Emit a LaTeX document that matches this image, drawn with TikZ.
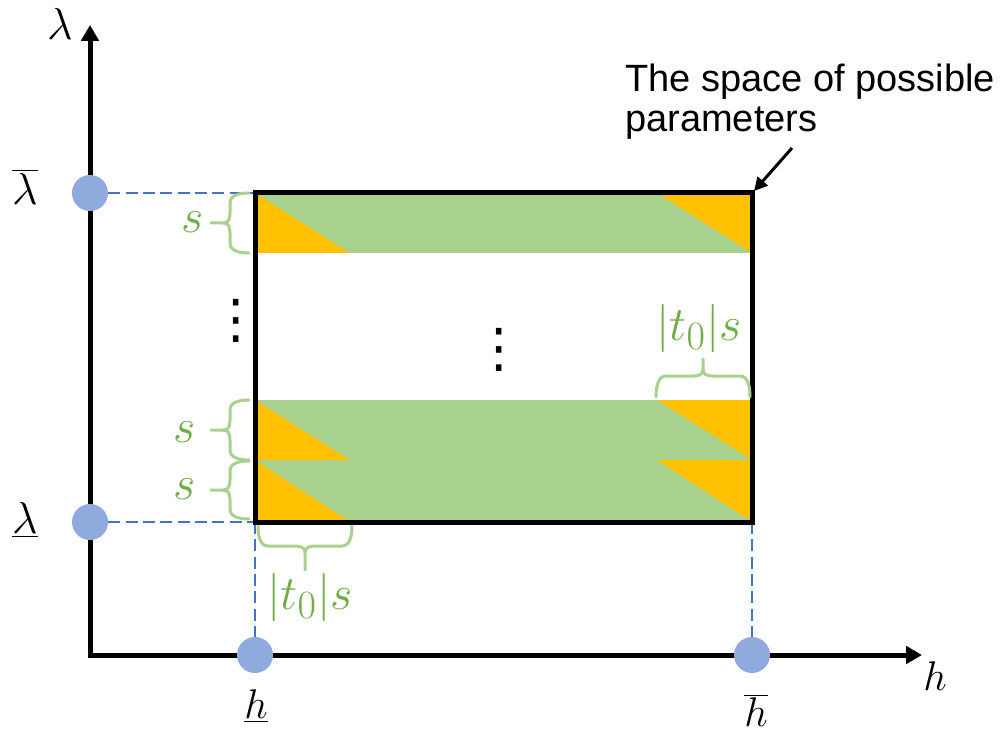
\documentclass[tikz,border=0pt]{standalone}
\usepackage{fontspec}
\usetikzlibrary{arrows.meta}
\newfontfamily\labelfont{Liberation Sans}
\newfontfamily\symfont{DejaVu Sans}
\definecolor{bandgreen}{HTML}{A9D18E}
\definecolor{triorange}{HTML}{FFC000}
\definecolor{dotblue}{HTML}{8FAADC}
\definecolor{dashblue}{HTML}{4472C4}
\definecolor{txtgreen}{HTML}{70AD47}
% brace: #1,#2 position of open-side centre; #3,#4 local x/y vectors; #5 half length; #6 body depth; #7 tip depth
\newcommand{\gbrace}[7]{%
  \begin{scope}[shift={(#1,#2)},x={#3},y={#4}]
    \draw[bracestyle] (-#7,0) -- (-#6-7,0) .. controls (-#6-2,0) and (-#6,-3) .. (-#6,-10)
      -- (-#6,-#5+10) .. controls (-#6,-#5+3) and (-0.6*#6,-#5) .. (0,-#5);
    \draw[bracestyle] (-#6-7,0) .. controls (-#6-2,0) and (-#6,3) .. (-#6,10)
      -- (-#6,#5-10) .. controls (-#6,#5-3) and (-0.6*#6,#5) .. (0,#5);
  \end{scope}}
\begin{document}
\begin{tikzpicture}[x=0.75pt,y=-0.75pt,
  bracestyle/.style={draw=bandgreen,line width=2.25pt,line cap=round,line join=round},
  axis/.style={line width=3.75pt,{Triangle[width=13pt,length=12pt]}-{Triangle[width=13pt,length=12pt]}},
  dashline/.style={dashblue,line width=1.5pt,dash pattern=on 9pt off 4pt},
  dot/.style={circle,fill=dotblue,minimum size=27pt,inner sep=0pt},
  mathlbl/.style={font=\Huge,scale=1.25,inner sep=0pt},
  lamlbl/.style={font=\Huge,scale=1.35,inner sep=0pt},
  slbl/.style={font=\Huge,scale=1.45,text=txtgreen,inner sep=0pt},
  vdotsl/.style={font=\symfont\fontsize{40}{44}\selectfont,inner sep=0pt}]
\useasboundingbox (0,0) rectangle (1003,734);

% corners of the parameter box
\coordinate (TL) at (255,193);
\coordinate (TR) at (752,193);
\coordinate (BL) at (255,522);
\coordinate (BR) at (752,522);

% green bands
\fill[bandgreen] (255,193) rectangle (752,253);
\fill[bandgreen] (255,400) rectangle (752,460);
\fill[bandgreen] (255,460) rectangle (752,522);
% orange triangles
\fill[triorange] (255,193) -- (255,253) -- (350,253) -- cycle;
\fill[triorange] (657,193) -- (752,193) -- (752,253) -- cycle;
\fill[triorange] (255,400) -- (255,460) -- (350,460) -- cycle;
\fill[triorange] (657,400) -- (752,400) -- (752,460) -- cycle;
\fill[triorange] (255,460) -- (255,522) -- (350,522) -- cycle;
\fill[triorange] (657,460) -- (752,460) -- (752,522) -- cycle;

% axes
\coordinate (O) at (90,655);
\coordinate (ytip) at (90,25);
\coordinate (xtip) at (922,655);
\draw[axis,line join=miter] (ytip) -- (O) -- (xtip);

% points on axes
\node[dot] (lamhi) at (90,193) {};
\node[dot] (lamlo) at (90,522) {};
\node[dot] (hlo) at (255,655) {};
\node[dot] (hhi) at (752,655) {};

% dashed guides
\draw[dashline] (lamhi) -- (TL);
\draw[dashline] (lamlo) -- (BL);
\draw[dashline] (BL) -- (hlo);
\draw[dashline] (BR) -- (hhi);

% box
\draw[line width=3.75pt] (TL) -- (TR) -- (BR) -- (BL) -- cycle;

% axis labels
\node[lamlbl] (lamlbl) at (60,24) {$\lambda$};
\node[lamlbl] (lamhilbl) at (25,187) {$\overline{\lambda}$};
\node[lamlbl] (lamlolbl) at (25,520) {$\underline{\lambda}$};
\node[mathlbl] (hlolbl) at (256,706) {$\underline{h}$};
\node[mathlbl] (hhilbl) at (756,710) {$\overline{h}$};
\node[mathlbl] (hlbl) at (935,676) {$h$};

% braces
\gbrace{249}{223}{(0.75pt,0)}{(0,-0.75pt)}{30}{19}{38}
\gbrace{249}{430}{(0.75pt,0)}{(0,-0.75pt)}{30}{19}{38}
\gbrace{249}{490}{(0.75pt,0)}{(0,-0.75pt)}{29}{19}{38}
\gbrace{305}{526}{(0,0.75pt)}{(0.75pt,0)}{47}{20}{44}
\gbrace{703}{397}{(0,-0.75pt)}{(0.75pt,0)}{47}{21}{38}

% brace labels
\node[slbl] (s1) at (193,222) {$s$};
\node[slbl] (s2) at (185,432) {$s$};
\node[slbl] (s3) at (185,489) {$s$};
\node[slbl] (t1) at (310,597) {$|t_0|s$};
\node[slbl] (t2) at (699,328) {$|t_0|s$};

% vertical ellipses
\node[vdotsl] (vd1) at (236,321) {⋮};
\node[vdotsl] (vd2) at (499,350) {⋮};

% annotation
\node[anchor=north west,align=left,inner sep=0pt,font=\labelfont\fontsize{28.5}{30}\selectfont] (note) at (625,64) {The space of possible\\parameters};
\coordinate (ptr) at (792,148);
\draw[line width=2.25pt,-{Triangle[width=10pt,length=10pt]}] (ptr) -- (754,191);
\end{tikzpicture}
\end{document}
